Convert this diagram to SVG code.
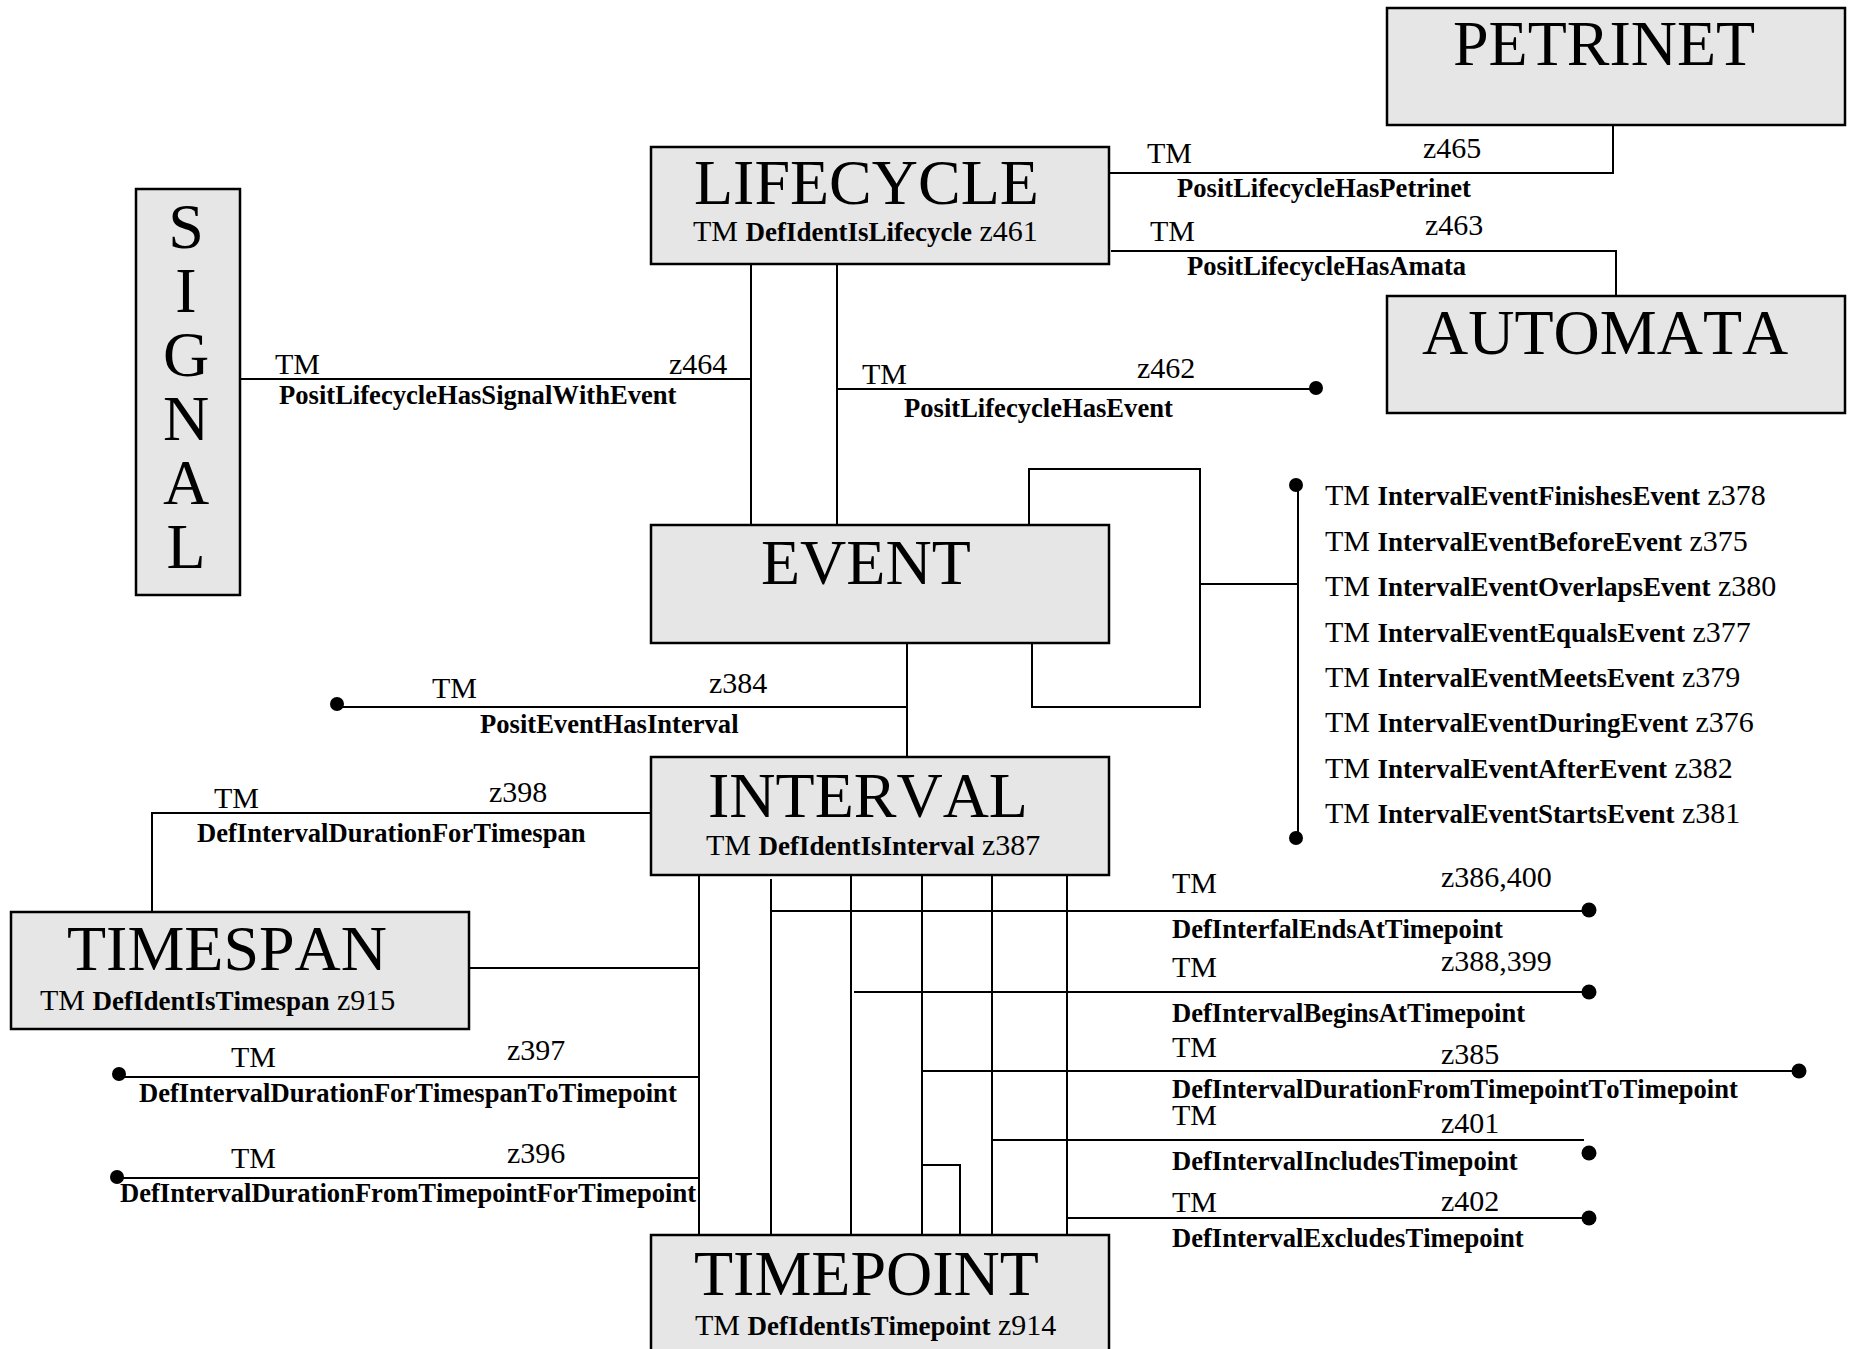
<svg xmlns="http://www.w3.org/2000/svg" width="1851" height="1349" viewBox="0 0 1851 1349">
<style>
text{font-kerning:none;font-variant-ligatures:none}
.box{fill:#e6e6e6;stroke:#000;stroke-width:2.5}
.ln{fill:none;stroke:#000;stroke-width:2}
.dot{fill:#000}
.big{font-family:"Liberation Serif","Times New Roman",serif;font-size:64px;fill:#000}
.r{font-family:"Liberation Serif","Times New Roman",serif;font-size:30px;fill:#000}
.b{font-family:"Liberation Serif","Times New Roman",serif;font-size:27px;font-weight:bold;fill:#000}
.lb{font-family:"Liberation Serif","Times New Roman",serif;font-size:26.6px;font-weight:bold;fill:#000}
</style>
<rect x="0" y="0" width="1851" height="1349" fill="#fff"/>

<g id="connectors">
  <!-- LIFECYCLE - PETRINET -->
  <polyline class="ln" points="1109,173 1613,173 1613,124"/>
  <!-- LIFECYCLE - AUTOMATA -->
  <polyline class="ln" points="1111,251 1616,251 1616,302"/>
  <!-- SIGNAL - LIFECYCLE/EVENT -->
  <line class="ln" x1="240" y1="379" x2="751" y2="379"/>
  <line class="ln" x1="751" y1="265" x2="751" y2="531"/>
  <!-- LIFECYCLE - EVENT -->
  <line class="ln" x1="837" y1="265" x2="837" y2="525"/>
  <line class="ln" x1="837" y1="389" x2="1316" y2="389"/>
  <circle class="dot" cx="1316" cy="388" r="7"/>
  <!-- EVENT self loop -->
  <polyline class="ln" points="1029,528 1029,469 1200,469 1200,707 1032,707 1032,644"/>
  <line class="ln" x1="1200" y1="584" x2="1298" y2="584"/>
  <line class="ln" x1="1298" y1="485" x2="1298" y2="838"/>
  <circle class="dot" cx="1296" cy="485" r="7"/>
  <circle class="dot" cx="1296" cy="838" r="7"/>
  <!-- EVENT - INTERVAL -->
  <line class="ln" x1="907" y1="644" x2="907" y2="757"/>
  <line class="ln" x1="907" y1="707" x2="340" y2="707"/>
  <circle class="dot" cx="337" cy="704" r="7"/>
  <!-- INTERVAL - TIMESPAN -->
  <polyline class="ln" points="651,813 152,813 152,912"/>
  <line class="ln" x1="469" y1="968" x2="699" y2="968"/>
  <!-- verticals INTERVAL - TIMEPOINT -->
  <line class="ln" x1="699" y1="875" x2="699" y2="1235"/>
  <line class="ln" x1="771" y1="879" x2="771" y2="1235"/>
  <line class="ln" x1="851" y1="875" x2="851" y2="1235"/>
  <line class="ln" x1="922" y1="875" x2="922" y2="1235"/>
  <line class="ln" x1="992" y1="863" x2="992" y2="1235"/>
  <line class="ln" x1="1067" y1="863" x2="1067" y2="1235"/>
  <polyline class="ln" points="922,1165 960,1165 960,1235"/>
  <!-- left lines -->
  <line class="ln" x1="699" y1="1077" x2="124" y2="1077"/>
  <circle class="dot" cx="119" cy="1074" r="7"/>
  <line class="ln" x1="699" y1="1178" x2="120" y2="1178"/>
  <circle class="dot" cx="117" cy="1177" r="7"/>
  <!-- right lines -->
  <line class="ln" x1="771" y1="911" x2="1588" y2="911"/>
  <circle class="dot" cx="1589" cy="910" r="7.5"/>
  <line class="ln" x1="854" y1="992" x2="1588" y2="992"/>
  <circle class="dot" cx="1589" cy="992" r="7.5"/>
  <line class="ln" x1="922" y1="1071" x2="1799" y2="1071"/>
  <circle class="dot" cx="1799" cy="1071" r="7.5"/>
  <line class="ln" x1="992" y1="1140" x2="1584" y2="1140"/>
  <circle class="dot" cx="1589" cy="1153" r="7.5"/>
  <line class="ln" x1="1067" y1="1218" x2="1588" y2="1218"/>
  <circle class="dot" cx="1589" cy="1218" r="7.5"/>

  <!-- connector labels -->
  <text class="r" x="1147" y="163">TM</text>
  <text class="r" x="1423" y="158">z465</text>
  <text class="lb" x="1177" y="197">PositLifecycleHasPetrinet</text>
  <text class="r" x="1150" y="241">TM</text>
  <text class="r" x="1425" y="235">z463</text>
  <text class="lb" x="1187" y="275">PositLifecycleHasAmata</text>
  <text class="r" x="275" y="374">TM</text>
  <text class="r" x="669" y="374">z464</text>
  <text class="lb" x="279" y="404">PositLifecycleHasSignalWithEvent</text>
  <text class="r" x="862" y="384">TM</text>
  <text class="r" x="1137" y="378">z462</text>
  <text class="lb" x="904" y="417">PositLifecycleHasEvent</text>
  <text class="r" x="432" y="698">TM</text>
  <text class="r" x="709" y="693">z384</text>
  <text class="lb" x="480" y="733">PositEventHasInterval</text>
  <text class="r" x="214" y="808">TM</text>
  <text class="r" x="489" y="802">z398</text>
  <text class="lb" x="197" y="842">DefIntervalDurationForTimespan</text>
  <text class="r" x="231" y="1067">TM</text>
  <text class="r" x="507" y="1060">z397</text>
  <text class="lb" x="139" y="1102">DefIntervalDurationForTimespanToTimepoint</text>
  <text class="r" x="231" y="1168">TM</text>
  <text class="r" x="507" y="1163">z396</text>
  <text class="lb" x="120" y="1202">DefIntervalDurationFromTimepointForTimepoint</text>

  <text class="r" x="1172" y="893">TM</text>
  <text class="r" x="1441" y="887">z386,400</text>
  <text class="lb" x="1172" y="938">DefInterfalEndsAtTimepoint</text>
  <text class="r" x="1172" y="977">TM</text>
  <text class="r" x="1441" y="971">z388,399</text>
  <text class="lb" x="1172" y="1022">DefIntervalBeginsAtTimepoint</text>
  <text class="r" x="1172" y="1057">TM</text>
  <text class="r" x="1441" y="1064">z385</text>
  <text class="lb" x="1172" y="1098">DefIntervalDurationFromTimepointToTimepoint</text>
  <text class="r" x="1172" y="1125">TM</text>
  <text class="r" x="1441" y="1133">z401</text>
  <text class="lb" x="1172" y="1170">DefIntervalIncludesTimepoint</text>
  <text class="r" x="1172" y="1212">TM</text>
  <text class="r" x="1441" y="1211">z402</text>
  <text class="lb" x="1172" y="1247">DefIntervalExcludesTimepoint</text>

  <text class="r" x="1325" y="505">TM <tspan class="b">IntervalEventFinishesEvent</tspan> z378</text>
  <text class="r" x="1325" y="551">TM <tspan class="b">IntervalEventBeforeEvent</tspan> z375</text>
  <text class="r" x="1325" y="596">TM <tspan class="b">IntervalEventOverlapsEvent</tspan> z380</text>
  <text class="r" x="1325" y="642">TM <tspan class="b">IntervalEventEqualsEvent</tspan> z377</text>
  <text class="r" x="1325" y="687">TM <tspan class="b">IntervalEventMeetsEvent</tspan> z379</text>
  <text class="r" x="1325" y="732">TM <tspan class="b">IntervalEventDuringEvent</tspan> z376</text>
  <text class="r" x="1325" y="778">TM <tspan class="b">IntervalEventAfterEvent</tspan> z382</text>
  <text class="r" x="1325" y="823">TM <tspan class="b">IntervalEventStartsEvent</tspan> z381</text>
</g>

<g id="petrinet">
  <rect class="box" x="1387" y="8" width="458" height="117"/>
  <text class="big" x="1453" y="65">PETRINET</text>
</g>
<g id="automata">
  <rect class="box" x="1387" y="296" width="458" height="117"/>
  <text class="big" x="1422" y="354">AUTOMATA</text>
</g>
<g id="lifecycle">
  <rect class="box" x="651" y="147" width="458" height="117"/>
  <text class="big" x="694" y="204">LIFECYCLE</text>
  <text class="r" x="693" y="241">TM <tspan class="b">DefIdentIsLifecycle</tspan> z461</text>
</g>
<g id="signal">
  <rect class="box" x="136" y="189" width="104" height="406"/>
  <text class="big" x="186" y="248" text-anchor="middle">S</text>
  <text class="big" x="186" y="312" text-anchor="middle">I</text>
  <text class="big" x="186" y="376" text-anchor="middle">G</text>
  <text class="big" x="186" y="440" text-anchor="middle">N</text>
  <text class="big" x="186" y="504" text-anchor="middle">A</text>
  <text class="big" x="186" y="568" text-anchor="middle">L</text>
</g>
<g id="event">
  <rect class="box" x="651" y="525" width="458" height="118"/>
  <text class="big" x="761" y="584">EVENT</text>
</g>
<g id="interval">
  <rect class="box" x="651" y="757" width="458" height="118"/>
  <text class="big" x="708" y="817">INTERVAL</text>
  <text class="r" x="706" y="855">TM <tspan class="b">DefIdentIsInterval</tspan> z387</text>
</g>
<g id="timespan">
  <rect class="box" x="11" y="912" width="458" height="117"/>
  <text class="big" x="67" y="970">TIMESPAN</text>
  <text class="r" x="40" y="1010">TM <tspan class="b">DefIdentIsTimespan</tspan> z915</text>
</g>
<g id="timepoint">
  <rect class="box" x="651" y="1235" width="458" height="130"/>
  <text class="big" x="694" y="1295">TIMEPOINT</text>
  <text class="r" x="695" y="1335">TM <tspan class="b">DefIdentIsTimepoint</tspan> z914</text>
</g>
</svg>
